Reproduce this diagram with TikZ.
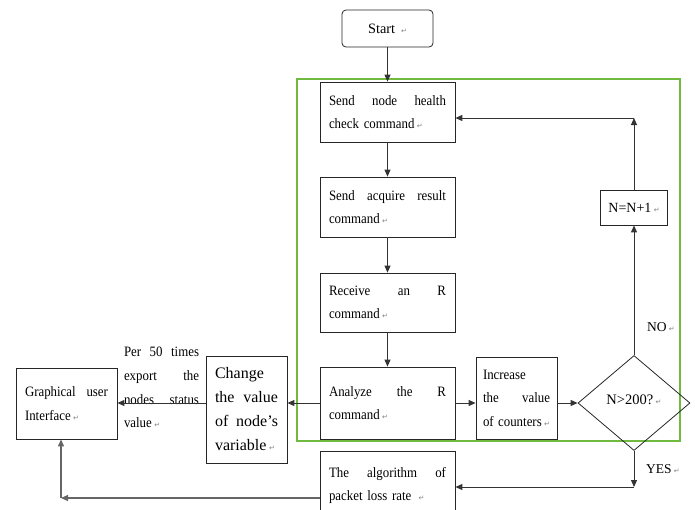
\documentclass[tikz,border=0pt]{standalone}
\usepackage{fontspec}
\setmainfont{Liberation Serif}
\newfontfamily\condfont{Liberation Serif}[FakeStretch=0.9]
\newfontfamily\symfont{DejaVu Sans}
\usetikzlibrary{arrows.meta,shapes.geometric}
\definecolor{framegreen}{RGB}{112,186,64}
\hyphenpenalty=10000
% Word-style paragraph mark printed after each text
\newcommand\retmark{\,{\symfont\fontsize{7}{7}\selectfont\color{black!50}↵}}

\begin{document}
\begin{tikzpicture}[x=1pt,y=-1pt,
  box/.style={draw=black!85, line width=0.8pt, inner xsep=9pt, inner ysep=0pt,
    align=left, font=\condfont\fontsize{14.3}{23.5}\selectfont},
  plain/.style={draw=black!85, line width=0.8pt, inner sep=0pt, align=center,
    font=\fontsize{14}{16}\selectfont},
  tag/.style={inner sep=0pt, font=\fontsize{13.5}{15}\selectfont},
  arr/.style={draw=black!80, line width=1pt, -{Triangle[length=7pt,width=6pt]}},
  arrg/.style={draw=black!60, line width=1.2pt, -{Triangle[length=7pt,width=6pt]}}]
\clip (0,0) rectangle (695,509);

% loop frame
\draw[framegreen, line width=1.8pt] (297,79) rectangle (680,441);

% process boxes
\node[plain, rounded corners=4pt, minimum width=91pt, minimum height=37pt,
  font=\fontsize{14.3}{16}\selectfont] (start) at (387.5,28.5) {Start \retmark};
\node[box, text width=117pt, minimum width=135pt, minimum height=60pt] (n1) at (387.5,112)
  {Send\hfill node\hfill health\\check command\retmark};
\node[box, text width=117pt, minimum width=135pt, minimum height=60pt] (n2) at (387.5,207)
  {Send\hfill acquire\hfill result\\command\retmark};
\node[box, text width=117pt, minimum width=135pt, minimum height=59pt] (n3) at (387.5,302.5)
  {Receive\hfill an\hfill R\\command\retmark};
\node[box, text width=117pt, minimum width=135pt, minimum height=72pt] (n4) at (387.5,403)
  {Analyze\hfill the\hfill R\\command\retmark};
\node[box, inner xsep=7pt, text width=67pt, minimum width=81pt, minimum height=82pt] (n5) at (516.5,398)
  {Increase\\the\hfill value\\of\hfill counters\retmark};
\node[plain, diamond, minimum width=112pt, minimum height=95pt, font=\fontsize{14.5}{16}\selectfont]
  (dia) at (634,403) {\raisebox{6pt}{N>200?\retmark}};
\node[plain, minimum width=67pt, minimum height=35pt] (nn) at (634,207.5) {N=N+1\retmark};
\node[box, text width=117pt, minimum width=135pt, minimum height=69pt] (algo) at (387.5,485.5)
  {The\hfill algorithm\hfill of\\packet loss rate \retmark};
\node[box, text width=83pt, minimum width=101pt, minimum height=71pt] (gui) at (66.5,403.5)
  {Graphical\hfill user\\Interface\retmark};
\node[box, text width=63pt, minimum width=81pt, minimum height=107pt,
  font=\fontsize{16}{24}\selectfont] (chg) at (246.5,409.5)
  {Change\\the\hfill value\\of\hfill node’s\\variable\retmark};

% labels
\node[inner sep=0pt, text width=75pt, align=left, font=\condfont\fontsize{14.3}{23.7}\selectfont]
  (lab) at (161.5,387.5) {Per\hfill 50\hfill times\\export\hfill the\\nodes\hfill status\\value\retmark};
\node[tag] (no) at (661,327) {NO\retmark};
\node[tag] (yes) at (663,469) {YES\retmark};

% connectors
\coordinate (tr) at (634,118);
\coordinate (yb) at (634,487);
\coordinate (bl) at (61,498);
\draw[arr] (start) -- (n1);
\draw[arr] (n1) -- (n2);
\draw[arr] (n2) -- (n3);
\draw[arr] (n3) -- (n4);
\draw[arr] (n4.east) -- (n5.west |- n4.east);
\draw[arr] (n5.east |- n4.east) -- (dia.west);
\draw[arr] (dia.north) -- (nn.south);
\draw[arr] (nn.north) -- (tr);
\draw[arr] (tr) -- (n1.east |- tr);
\draw[arr] (dia.south) -- (yb);
\draw[arr] (yb) -- (algo.east |- yb);
\draw[arrg] (algo.west |- bl) -- (bl);
\draw[arrg] (bl) -- (gui.south -| bl);
\draw[arr] (n4.west) -- (chg.east |- n4.west);
\draw[arr] (chg.west |- n4.west) -- (gui.east |- n4.west);
\end{tikzpicture}
\end{document}
